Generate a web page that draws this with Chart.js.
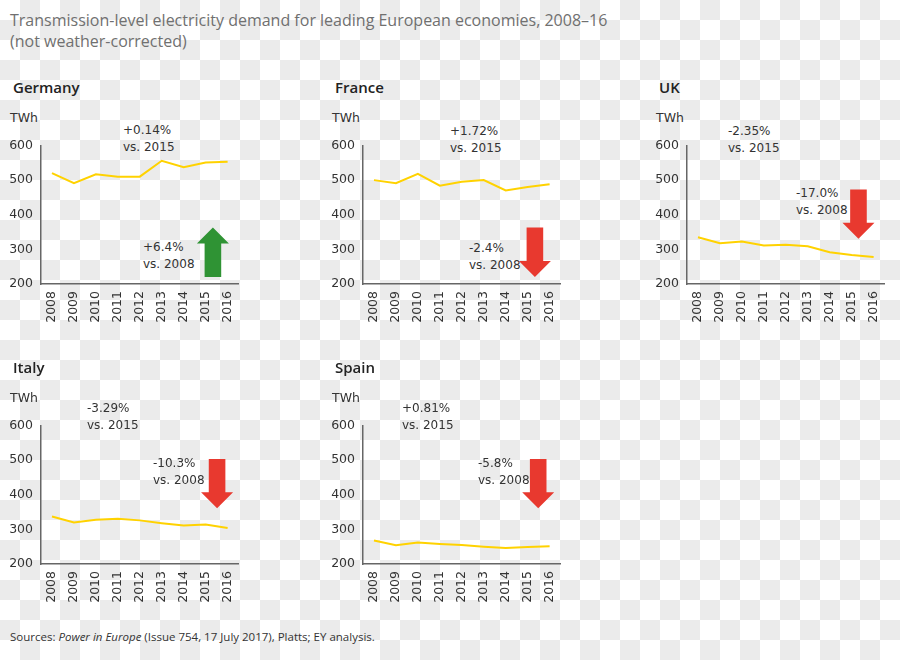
<!DOCTYPE html>
<html>
<head>
<meta charset="utf-8">
<script src="https://cdn.jsdelivr.net/npm/chart.js@4/dist/chart.umd.min.js"></script>
<style>
    html, body {
        margin: 0;
        padding: 0;
    }
    body {
        width: 900px;
        height: 660px;
        position: relative;
        overflow: hidden;
        background-color: #fff;
        background-image: conic-gradient(#ebebeb 0 25%, #fff 0 50%, #ebebeb 0 75%, #fff 0);
        background-size: 40px 40px;
        font-family: "DejaVu Sans", sans-serif;
        color: #333;
    }
    .titulo {
        position: absolute;
        left: 10px;
        top: 10px;
        font-family: "Open Sans", sans-serif;
        font-size: 16px;
        line-height: 21px;
        color: #707070;
    }
    .painel {
        position: absolute;
        width: 254px;
        height: 280px;
    }
    .painel canvas {
        position: absolute;
        left: 0;
        top: 130px;
    }
    .pais {
        position: absolute;
        left: 13px;
        top: 77px;
        font-family: "Open Sans", sans-serif;
        font-weight: 600;
        font-size: 15px;
        color: #222;
    }
    .unidade {
        position: absolute;
        left: 10px;
        top: 110px;
        font-size: 12.5px;
        color: #333;
    }
    .nota {
        position: absolute;
        font-size: 12px;
        line-height: 16.5px;
        color: #333;
        white-space: nowrap;
    }
    .fonte {
        position: absolute;
        left: 10px;
        top: 629px;
        font-family: "Open Sans", sans-serif;
        font-size: 11.5px;
        color: #333;
    }
</style>
</head>
<body>
<div class="titulo">Transmission-level electricity demand for leading European economies, 2008–16<br>(not weather-corrected)</div>
<div id="paineis"></div>
<div class="fonte">Sources: <i>Power in Europe</i> (Issue 754, 17 July 2017), Platts; EY analysis.</div>

<script>
// Dados (TWh)
const anos = ['2008', '2009', '2010', '2011', '2012', '2013', '2014', '2015', '2016'];
const paises = ['Germany', 'France', 'UK', 'Italy', 'Spain'];

const germany = [520, 491, 517, 510, 510, 556, 537, 551, 553];
const france = [500, 491, 518, 484, 495, 500, 470, 480, 488];
const uk = [335, 318, 323, 311, 313, 309, 292, 284, 278];
const italy = [337, 320, 328, 331, 326, 318, 311, 314, 304];
const spain = [268, 254, 262, 258, 255, 250, 246, 249, 251];

const ticksY = [200, 300, 400, 500, 600];

const notasAno = ['+0.14%', '+1.72%', '-2.35%', '-3.29%', '+0.81%'];
const notas2008 = ['+6.4%', '-2.4%', '-17.0%', '-10.3%', '-5.8%'];

// setas: direção e extremos (TWh)
const setaDirecao = ['up', 'down', 'down', 'down', 'down'];
const setaInicio = [220, 363, 473, 503, 503];
const setaFim = [363, 220, 331, 361, 361];
const setaIndice = [7.33, 7.33, 7.31, 7.52, 7.48];

const series = [germany, france, uk, italy, spain];

// posições dos painéis
const layoutPaineis = [
    { left: 0, top: 0, nota1: [123, 122], nota2: [143, 239] },
    { left: 322, top: 0, nota1: [128, 123], nota2: [147, 240] },
    { left: 646, top: 0, nota1: [82, 123], nota2: [150, 185] },
    { left: 0, top: 280, nota1: [87, 120], nota2: [153, 175] },
    { left: 322, top: 280, nota1: [80, 120], nota2: [156, 175] }
];

const pluginSeta = {
    id: 'seta',
    afterDatasetsDraw(chart, args, opts) {
        const ctx = chart.ctx;
        const x = chart.scales.x.getPixelForValue(opts.indice);
        const y0 = chart.scales.y.getPixelForValue(opts.inicio);
        const y1 = chart.scales.y.getPixelForValue(opts.fim);
        const dir = y1 < y0 ? -1 : 1;
        const cabeca = 16;
        const meiaCabeca = 16;
        const meiaHaste = 8.3;
        const base = y1 - dir * cabeca;
        ctx.save();
        ctx.fillStyle = opts.cor;
        ctx.beginPath();
        ctx.moveTo(x - meiaHaste, y0);
        ctx.lineTo(x - meiaHaste, base);
        ctx.lineTo(x - meiaCabeca, base);
        ctx.lineTo(x, y1);
        ctx.lineTo(x + meiaCabeca, base);
        ctx.lineTo(x + meiaHaste, base);
        ctx.lineTo(x + meiaHaste, y0);
        ctx.closePath();
        ctx.fill();
        ctx.restore();
    }
};

function criarPainel(i) {
    const lay = layoutPaineis[i];
    const painel = document.createElement('div');
    painel.className = 'painel';
    painel.style.left = lay.left + 'px';
    painel.style.top = lay.top + 'px';
    painel.innerHTML =
        `<div class="pais">${paises[i]}</div>` +
        `<div class="unidade">TWh</div>` +
        `<div class="nota" style="left:${lay.nota1[0]}px;top:${lay.nota1[1]}px">${notasAno[i]}<br>vs. 2015</div>` +
        `<div class="nota" style="left:${lay.nota2[0]}px;top:${lay.nota2[1]}px">${notas2008[i]}<br>vs. 2008</div>`;
    const canvas = document.createElement('canvas');
    canvas.width = 250;
    canvas.height = 200;
    canvas.style.width = '250px';
    canvas.style.height = '200px';
    painel.appendChild(canvas);
    document.getElementById('paineis').appendChild(painel);

    new Chart(canvas, {
        type: 'line',
        data: {
            labels: anos,
            datasets: [{
                label: paises[i],
                data: series[i],
                borderColor: '#ffd200',
                borderWidth: 2,
                pointRadius: 0,
                tension: 0,
                fill: false
            }]
        },
        options: {
            responsive: false,
            animation: false,
            events: [],
            layout: {
                padding: { top: 13, right: 7, left: 0, bottom: 0 }
            },
            plugins: {
                legend: { display: false },
                tooltip: { enabled: false },
                seta: {
                    indice: setaIndice[i],
                    inicio: setaInicio[i],
                    fim: setaFim[i],
                    cor: setaDirecao[i] === 'up' ? '#2f9334' : '#e8392f'
                }
            },
            scales: {
                y: {
                    min: 200,
                    max: 600,
                    afterFit: s => { s.width = 41; },
                    afterBuildTicks: s => { s.ticks = ticksY.map(v => ({ value: v })); },
                    grid: { display: false, drawTicks: false },
                    border: { display: true, color: '#666', width: 1.5 },
                    ticks: {
                        padding: 8,
                        color: '#333',
                        font: { family: 'DejaVu Sans', size: 12.5 }
                    }
                },
                x: {
                    offset: true,
                    afterFit: s => { s.height = 46; },
                    grid: { display: false, drawTicks: false },
                    border: { display: true, color: '#666', width: 1.5 },
                    ticks: {
                        padding: 7,
                        minRotation: 90,
                        maxRotation: 90,
                        autoSkip: false,
                        color: '#333',
                        font: { family: 'DejaVu Sans', size: 12.5 }
                    }
                }
            }
        },
        plugins: [pluginSeta]
    });
}

paises.forEach((p, i) => criarPainel(i));
</script>
</body>
</html>
